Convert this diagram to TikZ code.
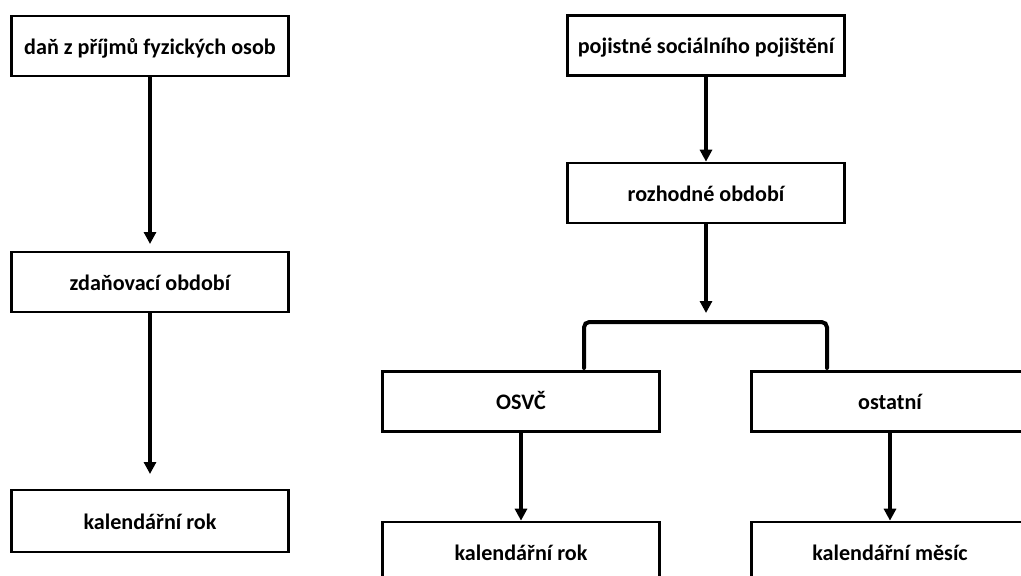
\documentclass[tikz,border=0pt]{standalone}
\usepackage{fontspec}
\setmainfont{Carlito}
\usetikzlibrary{arrows.meta}
\tikzset{
  box/.style={draw=black, line width=2pt, rectangle, minimum width=208pt, minimum height=45pt, inner sep=0pt, text height=14pt, text depth=1.5pt, font=\bfseries\fontsize{16.6}{18}\selectfont, text=black, fill=white},
  arr/.style={line width=2.6pt, -{Triangle[width=9pt,length=9pt]}},
  brk/.style={line width=3pt, rounded corners=4pt, line cap=round}
}
\begin{document}
\begin{tikzpicture}[x=0.75pt,y=-0.75pt]
\useasboundingbox (0,0) rectangle (1021,575);
\clip (0,0) rectangle (1021,575);
\fill[white] (0,0) rectangle (1021,575);
% left column
\node[box] (A) at (150,46) {daň z příjmů fyzických osob};
\node[box] (B) at (150,282) {zdaňovací období};
\node[box, minimum height=46.5pt] (C) at (150,521) {kalendářní rok};
% right column
\node[box] (D) at (706,45.5) {pojistné sociálního pojištění};
\node[box] (E) at (706,193) {rozhodné období};
\node[box] (F) at (521,401.5) {OSVČ};
\node[box] (G) at (890,401.5) {ostatní};
\node[box] (H) at (521,552) {kalendářní rok};
\node[box] (I) at (890,552) {kalendářní měsíc};
% bracket
\coordinate (bl) at (584,368);
\coordinate (br) at (827,368);
\coordinate (bt) at (706,313);
\draw[brk] (bl) -- (584,322) -- (827,322) -- (br);
% arrows
\draw[arr, shorten >=5pt] (A.south) -- (B.north);
\draw[arr, shorten >=11pt] (B.south) -- (C.north);
\draw[arr] (D.south) -- (E.north);
\draw[arr] (E.south) -- (bt);
\draw[arr] (F.south) -- (H.north);
\draw[arr] (G.south) -- (I.north);
\end{tikzpicture}
\end{document}
